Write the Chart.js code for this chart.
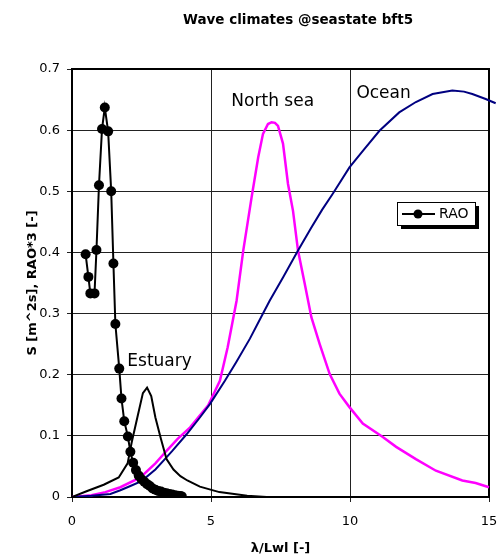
<!DOCTYPE html>
<html>
<head>
<meta charset="utf-8">
<script src="https://cdn.jsdelivr.net/npm/chart.js@4.4.1/dist/chart.umd.min.js"></script>
<style>
  html, body { margin: 0; padding: 0; background: #fff; }
</style>
</head>
<body>
<canvas id="waveChart" width="500" height="557"></canvas>
<script>
// Values
const xTicks = [0, 5, 10, 15];
const yTicks = [0, 0.1, 0.2, 0.3, 0.4, 0.5, 0.6, 0.7];

const raoX = [0.49, 0.59, 0.66, 0.81, 0.88, 0.97, 1.08, 1.18, 1.30, 1.41, 1.49, 1.56, 1.70, 1.78, 1.88, 2.01,
              2.10, 2.20, 2.30, 2.40, 2.50, 2.60, 2.70, 2.80, 2.90, 3.00, 3.10, 3.20, 3.30, 3.40, 3.50, 3.60, 3.70, 3.80, 3.90, 3.95];
const raoY = [0.397, 0.360, 0.333, 0.333, 0.404, 0.510, 0.602, 0.637, 0.598, 0.500, 0.382, 0.283, 0.210, 0.161, 0.124, 0.099,
              0.074, 0.056, 0.044, 0.035, 0.029, 0.025, 0.021, 0.018, 0.014, 0.012, 0.010, 0.009, 0.007, 0.006, 0.005, 0.004, 0.003, 0.002, 0.0015, 0.001];

const estuaryX = [0, 0.5, 1.14, 1.68, 2.0, 2.15, 2.35, 2.55, 2.7, 2.85, 3.0, 3.2, 3.4, 3.65, 3.9, 4.15, 4.6, 5.3, 6.3, 7.0];
const estuaryY = [0, 0.009, 0.020, 0.032, 0.055, 0.090, 0.130, 0.170, 0.179, 0.165, 0.130, 0.095, 0.062, 0.045, 0.034, 0.027, 0.017, 0.008, 0.002, 0];

const northSeaX = [0, 0.7, 1.2, 1.74, 2.46, 3.0, 3.41, 3.8, 4.25, 4.9, 5.32, 5.6, 5.92, 6.16, 6.46, 6.7, 6.87, 7.05, 7.18, 7.3, 7.41,
                   7.59, 7.77, 7.95, 8.13, 8.37, 8.61, 8.91, 9.27, 9.62, 9.98, 10.46, 11.18, 11.66, 12.37, 13.09, 14.04, 14.52, 15.0, 15.2];
const northSeaY = [0, 0.003, 0.008, 0.016, 0.032, 0.055, 0.076, 0.095, 0.114, 0.150, 0.190, 0.245, 0.321, 0.403, 0.490, 0.556, 0.594, 0.610, 0.613, 0.612, 0.607,
                   0.578, 0.512, 0.468, 0.403, 0.349, 0.294, 0.250, 0.201, 0.169, 0.147, 0.120, 0.098, 0.082, 0.062, 0.043, 0.027, 0.023, 0.016, 0.014];

const oceanX = [0, 0.7, 1.38, 1.74, 2.1, 2.5, 3.0, 3.3, 3.6, 4.13, 4.6, 4.96, 5.5, 5.9, 6.4, 6.87, 7.11, 7.6, 8.13, 8.6, 9.0, 9.38,
                9.98, 10.5, 11.06, 11.77, 12.37, 12.97, 13.68, 14.1, 14.4, 14.88, 15.24];
const oceanY = [0, 0.002, 0.005, 0.011, 0.018, 0.026, 0.045, 0.060, 0.075, 0.103, 0.130, 0.152, 0.190, 0.220, 0.259, 0.300, 0.321, 0.360, 0.403, 0.440, 0.470, 0.496,
                0.539, 0.568, 0.599, 0.629, 0.646, 0.659, 0.665, 0.663, 0.659, 0.651, 0.644];

const FONT = 'DejaVu Sans';

function pts(xs, ys) {
    return xs.map((x, i) => ({ x: x, y: ys[i] }));
}

// Plot frame (top and right edges) drawn under the lines
const framePlugin = {
    id: 'frame',
    beforeDatasetsDraw(chart) {
        const { ctx, chartArea: a } = chart;
        ctx.save();
        ctx.strokeStyle = '#000';
        ctx.lineWidth = 2;
        ctx.strokeRect(a.left, a.top, a.right - a.left, a.bottom - a.top);
        ctx.restore();
    }
};

// Title, curve names and the RAO legend box
const textPlugin = {
    id: 'texts',
    afterDraw(chart) {
        const { ctx } = chart;
        const xs = chart.scales.x, ys = chart.scales.y;
        ctx.save();
        ctx.fillStyle = '#000';
        ctx.textBaseline = 'middle';

        ctx.font = 'bold 13.5px ' + FONT;
        ctx.textAlign = 'center';
        ctx.fillText('Wave climates @seastate bft5', 298, 20);

        ctx.font = '17px ' + FONT;
        ctx.fillText('North sea', xs.getPixelForValue(7.22), ys.getPixelForValue(0.647));
        ctx.textAlign = 'left';
        ctx.fillText('Ocean', xs.getPixelForValue(10.23), ys.getPixelForValue(0.66));
        ctx.fillText('Estuary', xs.getPixelForValue(1.99), ys.getPixelForValue(0.221));

        // legend
        const bx = 397, by = 202, bw = 78, bh = 23;
        ctx.fillStyle = '#000';
        ctx.fillRect(bx + 4, by + 4, bw, bh);
        ctx.fillStyle = '#fff';
        ctx.fillRect(bx, by, bw, bh);
        ctx.strokeStyle = '#000';
        ctx.lineWidth = 1;
        ctx.strokeRect(bx + 0.5, by + 0.5, bw, bh);
        ctx.lineWidth = 2;
        ctx.beginPath();
        ctx.moveTo(bx + 5, by + 12);
        ctx.lineTo(bx + 38, by + 12);
        ctx.stroke();
        ctx.fillStyle = '#000';
        ctx.beginPath();
        ctx.arc(bx + 21, by + 12, 4.5, 0, Math.PI * 2);
        ctx.fill();
        ctx.font = '14px ' + FONT;
        ctx.fillText('RAO', bx + 42, by + 12.5);
        ctx.restore();
    }
};

new Chart(document.getElementById('waveChart'), {
    type: 'line',
    data: {
        datasets: [
            {
                label: 'RAO',
                data: pts(raoX, raoY),
                borderColor: '#000',
                backgroundColor: '#000',
                borderWidth: 2,
                pointRadius: 5,
                pointBackgroundColor: '#000',
                pointBorderWidth: 0,
                order: 1
            },
            {
                label: 'Estuary',
                data: pts(estuaryX, estuaryY),
                borderColor: '#000',
                borderWidth: 2,
                pointRadius: 0,
                order: 2
            },
            {
                label: 'Ocean',
                data: pts(oceanX, oceanY),
                borderColor: '#000080',
                borderWidth: 2,
                pointRadius: 0,
                clip: { left: 0, top: 5, right: 12, bottom: 0 },
                order: 3
            },
            {
                label: 'North sea',
                data: pts(northSeaX, northSeaY),
                borderColor: '#ff00ff',
                borderWidth: 2.5,
                pointRadius: 0,
                clip: { left: 0, top: 5, right: 12, bottom: 0 },
                order: 4
            }
        ]
    },
    options: {
        responsive: false,
        animation: false,
        layout: { padding: { top: 69, right: 11, left: 0, bottom: 0 } },
        elements: { line: { tension: 0 } },
        plugins: {
            legend: { display: false },
            title: { display: false },
            tooltip: { enabled: false }
        },
        scales: {
            x: {
                type: 'linear',
                min: 0,
                max: 15,
                afterBuildTicks: s => { s.ticks = xTicks.map(v => ({ value: v })); },
                afterFit: s => { s.height = 60; s.paddingLeft = 0; s.paddingRight = 0; },
                grid: { color: '#222', lineWidth: 1, tickLength: 5, drawOnChartArea: true },
                border: { color: '#000', width: 2 },
                ticks: { font: { family: FONT, size: 13 }, color: '#000', padding: 12, maxRotation: 0 },
                title: {
                    display: true,
                    text: 'λ/Lwl [-]',
                    font: { family: FONT, size: 13, weight: 'bold' },
                    color: '#000',
                    padding: { top: 0, bottom: 1 }
                }
            },
            y: {
                min: 0,
                max: 0.7,
                afterBuildTicks: s => { s.ticks = yTicks.map(v => ({ value: v })); },
                afterFit: s => { s.width = 72; s.paddingTop = 0; s.paddingBottom = 0; },
                grid: { color: '#222', lineWidth: 1, tickLength: 5 },
                border: { color: '#000', width: 2 },
                ticks: {
                    font: { family: FONT, size: 13 },
                    color: '#000',
                    padding: 7,
                    callback: v => String(+Number(v).toFixed(1))
                },
                title: {
                    display: true,
                    text: 'S [m^2s], RAO*3 [-]',
                    font: { family: FONT, size: 13, weight: 'bold' },
                    color: '#000',
                    padding: { top: 25, bottom: 0 }
                }
            }
        }
    },
    plugins: [framePlugin, textPlugin]
});
</script>
</body>
</html>
